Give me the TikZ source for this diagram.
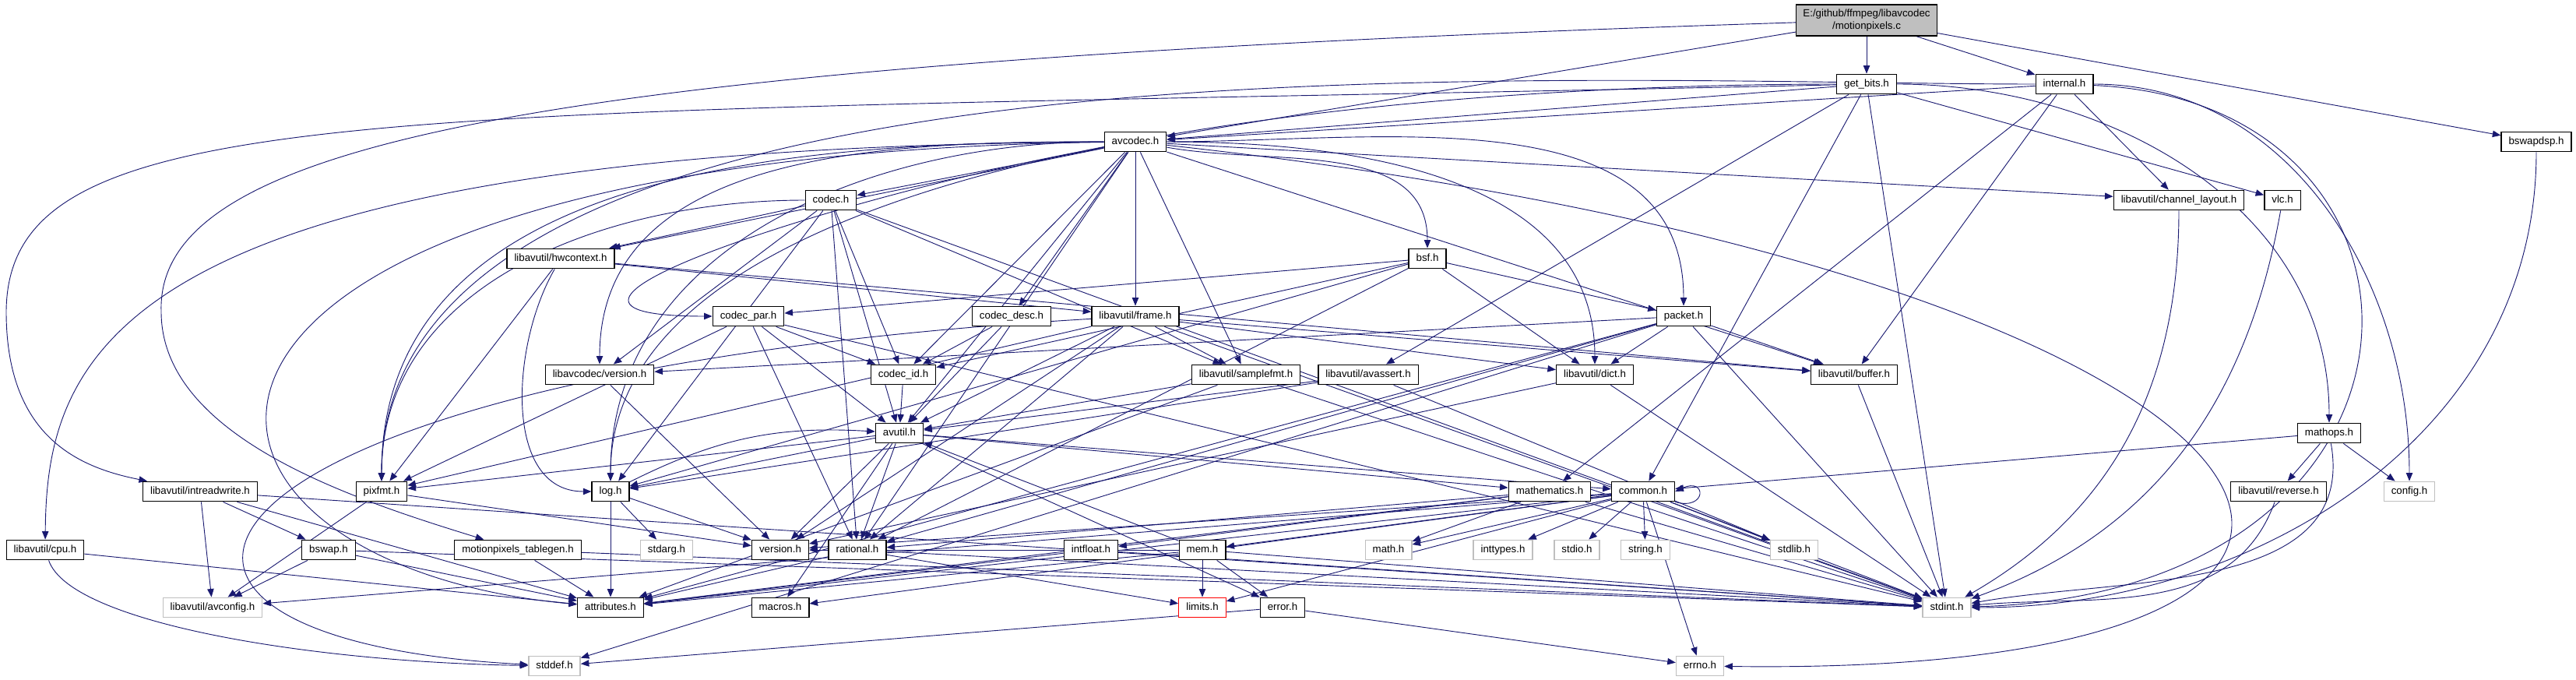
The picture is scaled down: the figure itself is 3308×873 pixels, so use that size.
\documentclass[tikz,border=0pt]{standalone}
\usepackage{fontspec}
\setmainfont{Liberation Sans}
\usetikzlibrary{arrows.meta,backgrounds}
\definecolor{navy}{HTML}{191970}
\definecolor{hdrgray}{HTML}{BFBFBF}

\begin{document}
\begin{tikzpicture}[x=0.01cm,y=-0.01cm,font=\fontsize{3.78}{4.5}\selectfont,
  file/.style={draw=black,line width=0.38pt,fill=white,inner xsep=0.095cm,inner ysep=0pt,
    minimum height=0.255cm,text height=2.75pt,text depth=0.75pt},
  sysfile/.style={file,draw=hdrgray},
  missing/.style={file,draw=red},
  mainfile/.style={draw=black,line width=0.38pt,fill=hdrgray,inner xsep=0.09cm,inner ysep=0.05cm,
    minimum height=0.4cm,align=center},
  dep/.style={draw=navy,line width=0.26pt,-{Triangle[length=3pt,width=2.4pt]}}]
  \useasboundingbox (0,0) rectangle (3308,873);

  % --- files, one row per rank ---
  \node[mainfile] (mpc) at (2397,26) {E:/github/ffmpeg/libavcodec\\/motionpixels.c};
  \node[file] (getbits) at (2397,108) {get\_bits.h};
  \node[file] (internal) at (2651,108) {internal.h};
  \node[file] (avcodec) at (1458,182) {avcodec.h};
  \node[file] (bswapdsp) at (3257,182) {bswapdsp.h};
  \node[file] (codec) at (1067,257) {codec.h};
  \node[file] (chlayout) at (2798,257) {libavutil/channel\_layout.h};
  \node[file] (vlc) at (2931,257) {vlc.h};
  \node[file] (hwctx) at (720,332) {libavutil/hwcontext.h};
  \node[file] (bsf) at (1833,332) {bsf.h};
  \node[file] (codecpar) at (961,406) {codec\_par.h};
  \node[file] (codecdesc) at (1299,406) {codec\_desc.h};
  \node[file] (frame) at (1458,406) {libavutil/frame.h};
  \node[file] (packet) at (2162,406) {packet.h};
  \node[file] (lavcver) at (770,481) {libavcodec/version.h};
  \node[file] (codecid) at (1160,481) {codec\_id.h};
  \node[file] (samplefmt) at (1600,481) {libavutil/samplefmt.h};
  \node[file] (avassert) at (1757,481) {libavutil/avassert.h};
  \node[file] (dict) at (2048,481) {libavutil/dict.h};
  \node[file] (buffer) at (2381,481) {libavutil/buffer.h};
  \node[file] (avutil) at (1155,556) {avutil.h};
  \node[file] (mathops) at (2991,556) {mathops.h};
  \node[file] (intrw) at (257,631) {libavutil/intreadwrite.h};
  \node[file] (pixfmt) at (490,631) {pixfmt.h};
  \node[file] (log) at (784,631) {log.h};
  \node[file] (mathem) at (1990,631) {mathematics.h};
  \node[file] (common) at (2110,631) {common.h};
  \node[file] (reverse) at (2926,631) {libavutil/reverse.h};
  \node[sysfile] (config) at (3094,631) {config.h};
  \node[file] (cpu) at (58,706) {libavutil/cpu.h};
  \node[file] (bswap) at (422,706) {bswap.h};
  \node[file] (tablegen) at (665,706) {motionpixels\_tablegen.h};
  \node[sysfile] (stdarg) at (856,706) {stdarg.h};
  \node[file] (version) at (1002,706) {version.h};
  \node[file] (rational) at (1101,706) {rational.h};
  \node[file] (intfloat) at (1401,706) {intfloat.h};
  \node[file] (mem) at (1544,706) {mem.h};
  \node[sysfile] (math) at (1783,706) {math.h};
  \node[sysfile] (inttypes) at (1930,706) {inttypes.h};
  \node[sysfile] (stdio) at (2025,706) {stdio.h};
  \node[sysfile] (string) at (2113,706) {string.h};
  \node[sysfile] (stdlib) at (2304,706) {stdlib.h};
  \node[sysfile] (avconfig) at (273,780) {libavutil/avconfig.h};
  \node[file] (attributes) at (784,780) {attributes.h};
  \node[file] (macros) at (1002,780) {macros.h};
  \node[missing] (limits) at (1544,780) {limits.h};
  \node[file] (error) at (1647,780) {error.h};
  \node[sysfile] (stdint) at (2500,780) {stdint.h};
  \node[sysfile] (stddef) at (712,855) {stddef.h};
  \node[sysfile] (errno) at (2183,855) {errno.h};

  \begin{scope}[on background layer]
  % --- plain includes ---
  \foreach \s/\t in {mpc/avcodec, mpc/getbits, mpc/internal, mpc/bswapdsp,
      getbits/avcodec, getbits/avassert, getbits/common, getbits/vlc, getbits/stdint,
      internal/avcodec, internal/buffer, internal/chlayout, internal/mathem,
      avcodec/codec, avcodec/hwctx, avcodec/codecdesc, avcodec/frame, avcodec/codecid,
      avcodec/avutil, avcodec/rational, avcodec/samplefmt, avcodec/chlayout, avcodec/buffer,
      codec/hwctx, codec/log, codec/avutil, codec/rational, codec/samplefmt, codec/codecid,
      codec/lavcver, codec/stdint,
      hwctx/buffer, hwctx/frame, hwctx/pixfmt,
      bsf/dict, bsf/log, bsf/rational, bsf/codecid, bsf/codecpar, bsf/packet,
      codecpar/stdint, codecpar/avutil, codecpar/rational, codecpar/pixfmt, codecpar/codecid,
      codecdesc/avutil, codecdesc/codecid,
      frame/stdint, frame/avutil, frame/buffer, frame/dict, frame/rational, frame/samplefmt,
      frame/pixfmt, frame/version,
      packet/stdint, packet/attributes, packet/buffer, packet/dict, packet/rational,
      packet/lavcver, packet/stddef,
      lavcver/version, codecid/avutil,
      samplefmt/stdint, samplefmt/avutil, samplefmt/attributes,
      avassert/stdlib, avassert/avutil, avassert/log,
      dict/stdint, dict/version, buffer/stdint,
      avutil/common, avutil/error, avutil/rational, avutil/version, avutil/macros,
      avutil/mathem, avutil/log, avutil/pixfmt,
      mathops/common, mathops/reverse, mathops/config,
      intrw/stdint, intrw/avconfig, intrw/attributes, intrw/bswap,
      pixfmt/avconfig, pixfmt/version,
      log/stdarg, log/attributes, log/version,
      mathem/stdint, mathem/math, mathem/attributes, mathem/rational, mathem/intfloat,
      common/errno, common/inttypes, common/limits, common/math, common/stdint, common/stdio,
      common/stdlib, common/string, common/attributes, common/macros, common/version,
      common/avconfig, common/mem,
      cpu/attributes, bswap/stdint, bswap/avconfig, bswap/attributes,
      tablegen/stdint, tablegen/attributes,
      rational/stdint, rational/limits, rational/attributes,
      intfloat/stdint, intfloat/attributes,
      mem/limits, mem/stdint, mem/attributes, mem/error, mem/avutil, mem/version,
      error/errno, error/stddef}
    \draw[dep] (\s) -- (\t);

  % --- long sweeping includes ---
  \draw[dep] (mpc) .. controls (700,80) and (200,180) .. (207,400)
    .. controls (207,560) and (450,640) .. (tablegen);
  \draw[dep] (getbits) .. controls (500,150) and (10,120) .. (8,400)
    .. controls (8,560) and (100,600) .. (intrw);
  \draw[dep] (getbits) to[out=180,in=90,looseness=0.7] (log);
  \draw[dep] (getbits) to[out=0,in=90] (mathops);
  \draw[dep] (internal) to[out=180,in=90,looseness=0.7] (pixfmt);
  \draw[dep] (internal) to[out=0,in=90] (config);
  \draw[dep] (internal) .. controls (3170,130) and (3170,760) .. (stdint);
  \draw[dep] (avcodec) .. controls (150,190) and (60,450) .. (cpu);
  \draw[dep] (avcodec) .. controls (100,200) and (150,720) .. (attributes);
  \draw[dep] (avcodec) to[out=180,in=90] (pixfmt);
  \draw[dep] (avcodec) to[out=180,in=90] (log);
  \draw[dep] (avcodec) to[out=180,in=90] (lavcver);
  \draw[dep] (avcodec) to[out=190,in=180,looseness=1.5] (codecpar);
  \draw[dep] (avcodec) to[out=-10,in=90] (bsf);
  \draw[dep] (avcodec) to[out=0,in=90] (packet);
  \draw[dep] (avcodec) to[out=0,in=90] (dict);
  \draw[dep] (avcodec) .. controls (3000,350) and (3300,870) .. (errno);
  \draw[dep] (codec) to[out=180,in=90] (pixfmt);
  \draw[dep] (hwctx) to[out=-120,in=180] (log);
  \draw[dep] (frame) .. controls (200,480) and (50,820) .. (stddef);
  \draw[dep] (log) to[bend left=15] (avutil);
  \draw[dep] (chlayout) to[out=-90,in=30] (stdint);
  \draw[dep] (vlc) to[out=-100,in=20] (stdint);
  \draw[dep] (bswapdsp) to[out=-90,in=0] (stdint);
  \draw[dep] (mathops) to[out=-80,in=10] (stdint);
  \draw[dep] (reverse) to[out=-110,in=5] (stdint);
  \draw[dep] (cpu) .. controls (90,800) and (400,850) .. (stddef);
  % common.h includes itself
  \draw[dep] (common.south east) .. controls (2192,656) and (2192,612) .. (common.east);
  \end{scope}
\end{tikzpicture}
\end{document}
